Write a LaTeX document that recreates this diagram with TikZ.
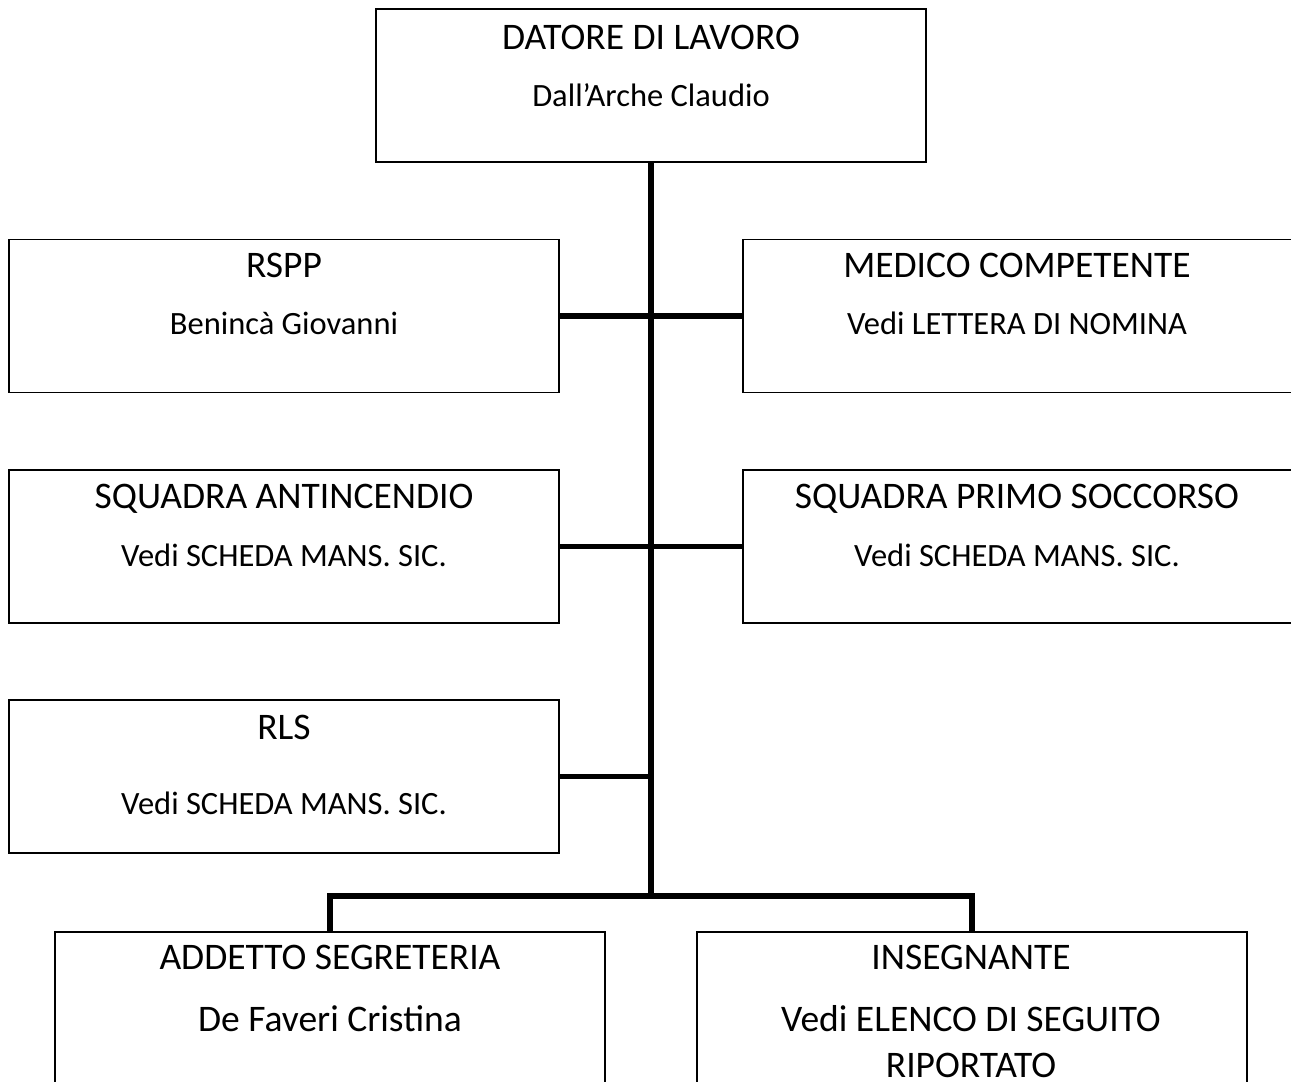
\documentclass[tikz,border=0pt]{standalone}
\usepackage{fontspec}
\setmainfont{Carlito}
\begin{document}
\begin{tikzpicture}[x=1pt,y=-1pt,
  box/.style={draw=black,line width=1.4pt,rectangle,minimum width=550pt,minimum height=153pt,inner sep=0pt},
  tallbox/.style={box,minimum height=200pt},
  txt/.style={anchor=base,inner sep=0pt,font=\fontsize{37.5}{45}\selectfont},
  sub/.style={txt,font=\fontsize{32.5}{39}\selectfont},
  conn/.style={line width=5.5pt,black}]
\useasboundingbox (0,0) rectangle (1291,1082);
\clip (0,0) rectangle (1291,1082);
% boxes
\node[box] (top) at (651,85.5) {};
\node[box] (rspp) at (284,316) {};
\node[box] (medico) at (1018,316) {};
\node[box] (anti) at (284,546.5) {};
\node[box] (primo) at (1018,546.5) {};
\node[box] (rls) at (284,776.5) {};
\node[tallbox] (addetto) at (330,1032) {};
\node[tallbox] (insegn) at (972,1032) {};
% texts
\node[txt] (topA) at (651,49) {DATORE DI LAVORO};
\node[sub] (topB) at (651,106) {Dall’Arche Claudio};
\node[txt] (rsppA) at (284,277) {RSPP};
\node[sub] (rsppB) at (284,334) {Benincà Giovanni};
\node[txt] (medA) at (1017,277) {MEDICO COMPETENTE};
\node[sub] (medB) at (1017,334) {Vedi LETTERA DI NOMINA};
\node[txt] (antiA) at (284,508) {SQUADRA ANTINCENDIO};
\node[sub] (antiB) at (284,566) {Vedi SCHEDA MANS. SIC.};
\node[txt] (primoA) at (1017,508) {SQUADRA PRIMO SOCCORSO};
\node[sub] (primoB) at (1017,566) {Vedi SCHEDA MANS. SIC.};
\node[txt] (rlsA) at (284,739) {RLS};
\node[sub] (rlsB) at (284,814) {Vedi SCHEDA MANS. SIC.};
\node[txt] (addA) at (330,969) {ADDETTO SEGRETERIA};
\node[txt] (addB) at (330,1031) {De Faveri Cristina};
\node[txt] (insA) at (971,969) {INSEGNANTE};
\node[txt] (insB) at (971,1031) {Vedi ELENCO DI SEGUITO};
\node[txt] (insC) at (971,1077) {RIPORTATO};
% connectors
\coordinate (bus) at (651,896);
\draw[conn] (top.south) -- (bus);
\draw[conn] (rspp.east) -- (rspp.east -| top.south);
\draw[conn] (medico.west) -- (medico.west -| top.south);
\draw[conn] (anti.east) -- (anti.east -| top.south);
\draw[conn] (primo.west) -- (primo.west -| top.south);
\draw[conn] (rls.east) -- (rls.east -| top.south);
\draw[conn,line join=miter] (addetto.north) |- (bus) -| (insegn.north);
\end{tikzpicture}
\end{document}
